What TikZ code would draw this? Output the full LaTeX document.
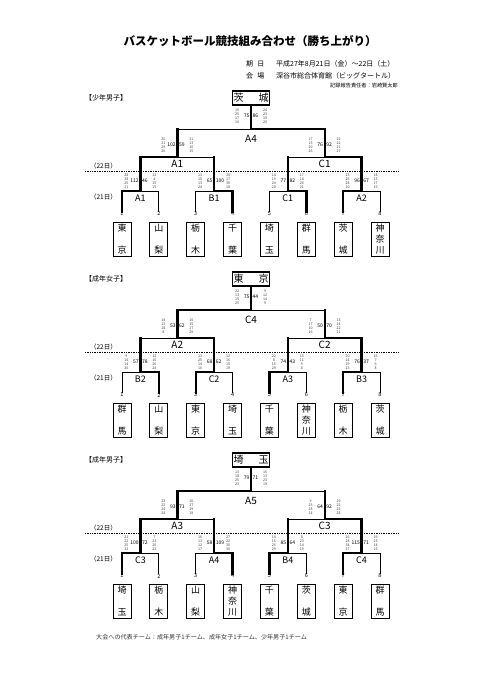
\documentclass[tikz,border=0pt]{standalone}
\usepackage{fontspec}
\setmainfont{Noto Sans CJK JP}
\usetikzlibrary{positioning}

% eight teams -> quarter, semi and final lines
\newcommand{\bracket}[7]{%
  \foreach \i/\tn in {#2} {
    \node[team] (#1t\i) at ({122+36.86*(\i-1)},239) {\tn};
    \node[num] (#1n\i) at ({122+36.86*(\i-1)},214) {\i};
  }
  \foreach \q/\lab/\sl/\sr in {#3} {
    \pgfmathtruncatemacro\leafA{2*\q-1}
    \pgfmathtruncatemacro\leafB{2*\q}
    \coordinate (#1q\q) at ({140.4+73.72*(\q-1)},191);
    \coordinate (#1u\q) at ({140.4+73.72*(\q-1)},157);
    \draw[\sl] (#1n\leafA.north) |- (#1q\q);
    \draw[\sr] (#1n\leafB.north) |- (#1q\q);
    \draw[wline] (#1q\q) -- (#1u\q);
    \node[qlabel] (#1ql\q) at ({140.4+73.72*(\q-1)},198) {\lab};
  }
  \foreach \s/\lab/\sl/\sr in {#4} {
    \pgfmathtruncatemacro\qtrA{2*\s-1}
    \pgfmathtruncatemacro\qtrB{2*\s}
    \coordinate (#1s\s) at ({177.3+147.4*(\s-1)},157);
    \coordinate (#1v\s) at ({177.3+147.4*(\s-1)},129);
    \draw[\sl] (#1u\qtrA) -- (#1s\s);
    \draw[\sr] (#1u\qtrB) -- (#1s\s);
    \draw[wline] (#1s\s) -- (#1v\s);
    \node[slabel] (#1sl\s) at ({177.3+147.4*(\s-1)},164) {\lab};
  }
  \coordinate (#1f) at (251,129);
  \draw[#6] (#1v1) -- (#1f);
  \draw[#7] (#1v2) -- (#1f);
  \draw[wline] (#1f) -- (#1win.south);
  \node[slabel] (#1fl) at (251,139) {#5};
}

% quarter scores beside a junction
\newcommand{\matchscores}[7]{%
  \node[periods] (#1lp) at (#2-14,#3) {#4};
  \node[total,anchor=east] (#1lt) at (#2-1,#3) {#5};
  \node[total,anchor=west] (#1rt) at (#2+1,#3) {#6};
  \node[periods] (#1rp) at (#2+14,#3) {#7};
}

\begin{document}
\begin{tikzpicture}[x=1pt,y=-1pt,
  every node/.style={inner sep=0pt},
  wline/.style={line width=2.4pt,line cap=rect},
  lline/.style={line width=0.8pt},
  dayline/.style={line width=0.7pt,densely dotted},
  team/.style={draw,line width=0.8pt,minimum width=18pt,minimum height=34pt,
    align=center,font=\fontsize{9}{11}\selectfont},
  champ/.style={draw,line width=1.5pt,minimum width=37pt,minimum height=14pt,
    font=\fontsize{10}{12}\selectfont},
  num/.style={font=\fontsize{5.5}{6}\selectfont},
  qlabel/.style={font=\fontsize{9}{10}\selectfont},
  slabel/.style={font=\fontsize{10}{11}\selectfont},
  sect/.style={font=\fontsize{7}{8}\selectfont,anchor=west},
  day/.style={font=\fontsize{6.5}{7}\selectfont,anchor=east},
  total/.style={font=\fontsize{5}{6}\selectfont,inner sep=0.5pt},
  periods/.style={font=\fontsize{3.6}{4.1}\selectfont,align=center,text=black!75},
  info/.style={font=\fontsize{7}{8}\selectfont,anchor=west}]
  \useasboundingbox (0,0) rectangle (481,680);

  % heading
  \node[font=\bfseries\fontsize{11.5}{13}\selectfont] (title) at (250,41)
    {バスケットボール競技組み合わせ（勝ち上がり）};
  \node[info] (datelbl) at (246,64) {期\hspace{0.6em}日};
  \node[info] (date) at (276,64) {平成27年8月21日（金）～22日（土）};
  \node[info] (placelbl) at (246,76) {会\hspace{0.6em}場};
  \node[info] (place) at (276,76) {深谷市総合体育館（ビッグタートル）};
  \node[font=\fontsize{5.2}{6}\selectfont,anchor=east] (rec) at (398,86)
    {記録報告責任者：岩崎賢太郎};

  % 少年男子
  \begin{scope}
    \node[sect] (a-sect) at (85,98) {【少年男子】};
    \node[champ] (a-win) at (251,98) {茨\hspace{1.5em}城};
    \node[day] (a-d22) at (117,166) {（22日）};
    \node[day] (a-d21) at (117,197) {（21日）};
    \coordinate (a-dl) at (85,171);
    \coordinate (a-dr) at (398,171);
    \draw[dayline] (a-dl) -- (a-dr);
    \bracket{a-}{1/{東\\[11pt]京},2/{山\\[11pt]梨},3/{栃\\[11pt]木},4/{千\\[11pt]葉},
      5/{埼\\[11pt]玉},6/{群\\[11pt]馬},7/{茨\\[11pt]城},8/{神\\奈\\川}}
      {1/A1/wline/lline,2/B1/lline/wline,3/C1/lline/wline,4/A2/wline/lline}
      {1/A1/wline/lline,2/C1/lline/wline}{A4}{lline}{wline}
    \matchscores{a-f}{251}{116}{15\\25\\17\\16}{75}{86}{24\\23\\19\\20}
    \matchscores{a-s1}{177.3}{145}{26\\21\\29\\26}{102}{59}{21\\13\\10\\15}
    \matchscores{a-s2}{324.7}{145}{17\\13\\20\\26}{76}{92}{22\\22\\21\\27}
    \matchscores{a-q1}{140.4}{181}{28\\38\\25\\21}{112}{46}{12\\4\\15\\15}
    \matchscores{a-q2}{214.1}{181}{13\\15\\13\\24}{65}{100}{35\\17\\30\\18}
    \matchscores{a-q3}{287.9}{181}{14\\19\\24\\20}{77}{82}{17\\18\\26\\21}
    \matchscores{a-q4}{361.6}{181}{23\\25\\28\\20}{96}{67}{18\\13\\17\\19}
  \end{scope}

  % 成年女子
  \begin{scope}[yshift=-181pt]
    \node[sect] (b-sect) at (85,98) {【成年女子】};
    \node[champ] (b-win) at (251,98) {東\hspace{1.5em}京};
    \node[day] (b-d22) at (117,166) {（22日）};
    \node[day] (b-d21) at (117,197) {（21日）};
    \coordinate (b-dl) at (85,171);
    \coordinate (b-dr) at (398,171);
    \draw[dayline] (b-dl) -- (b-dr);
    \bracket{b-}{1/{群\\[11pt]馬},2/{山\\[11pt]梨},3/{東\\[11pt]京},4/{埼\\[11pt]玉},
      5/{千\\[11pt]葉},6/{神\\奈\\川},7/{栃\\[11pt]木},8/{茨\\[11pt]城}}
      {1/B2/lline/wline,2/C2/wline/lline,3/A3/wline/lline,4/B3/wline/lline}
      {1/A2/lline/wline,2/C2/lline/wline}{C4}{wline}{lline}
    \matchscores{b-f}{251}{116}{22\\13\\15\\25}{75}{44}{9\\12\\14\\9}
    \matchscores{b-s1}{177.3}{145}{14\\13\\18\\8}{53}{62}{10\\15\\17\\20}
    \matchscores{b-s2}{324.7}{145}{7\\17\\10\\16}{50}{70}{13\\14\\22\\21}
    \matchscores{b-q1}{140.4}{181}{9\\14\\14\\20}{57}{78}{12\\16\\26\\24}
    \matchscores{b-q2}{214.1}{181}{13\\25\\14\\16}{68}{62}{12\\16\\15\\19}
    \matchscores{b-q3}{287.9}{181}{22\\8\\15\\29}{74}{43}{15\\11\\9\\8}
    \matchscores{b-q4}{361.6}{181}{20\\14\\19\\23}{76}{37}{16\\7\\6\\8}
  \end{scope}

  % 成年男子
  \begin{scope}[yshift=-362pt]
    \node[sect] (c-sect) at (85,98) {【成年男子】};
    \node[champ] (c-win) at (251,98) {埼\hspace{1.5em}玉};
    \node[day] (c-d22) at (117,166) {（22日）};
    \node[day] (c-d21) at (117,197) {（21日）};
    \coordinate (c-dl) at (85,171);
    \coordinate (c-dr) at (398,171);
    \draw[dayline] (c-dl) -- (c-dr);
    \bracket{c-}{1/{埼\\[11pt]玉},2/{栃\\[11pt]木},3/{山\\[11pt]梨},4/{神\\奈\\川},
      5/{千\\[11pt]葉},6/{茨\\[11pt]城},7/{東\\[11pt]京},8/{群\\[11pt]馬}}
      {1/C3/wline/lline,2/A4/lline/wline,3/B4/wline/lline,4/C4/wline/lline}
      {1/A3/wline/lline,2/C3/lline/wline}{A5}{wline}{lline}
    \matchscores{c-f}{251}{116}{13\\18\\25\\23}{79}{71}{16\\13\\23\\19}
    \matchscores{c-s1}{177.3}{145}{23\\22\\24\\24}{93}{71}{16\\17\\19\\19}
    \matchscores{c-s2}{324.7}{145}{9\\23\\18\\14}{64}{92}{19\\22\\23\\28}
    \matchscores{c-q1}{140.4}{181}{21\\22\\25\\32}{100}{72}{7\\23\\20\\22}
    \matchscores{c-q2}{214.1}{181}{16\\13\\12\\17}{58}{109}{27\\22\\30\\30}
    \matchscores{c-q3}{287.9}{181}{14\\16\\26\\29}{85}{64}{8\\23\\14\\19}
    \matchscores{c-q4}{361.6}{181}{26\\28\\34\\27}{115}{71}{19\\23\\14\\15}
  \end{scope}

  \node[font=\fontsize{6.1}{7}\selectfont,text=black!80,anchor=west] (footer) at (96,637)
    {大会への代表チーム：成年男子1チーム、成年女子1チーム、少年男子1チーム};
\end{tikzpicture}
\end{document}
